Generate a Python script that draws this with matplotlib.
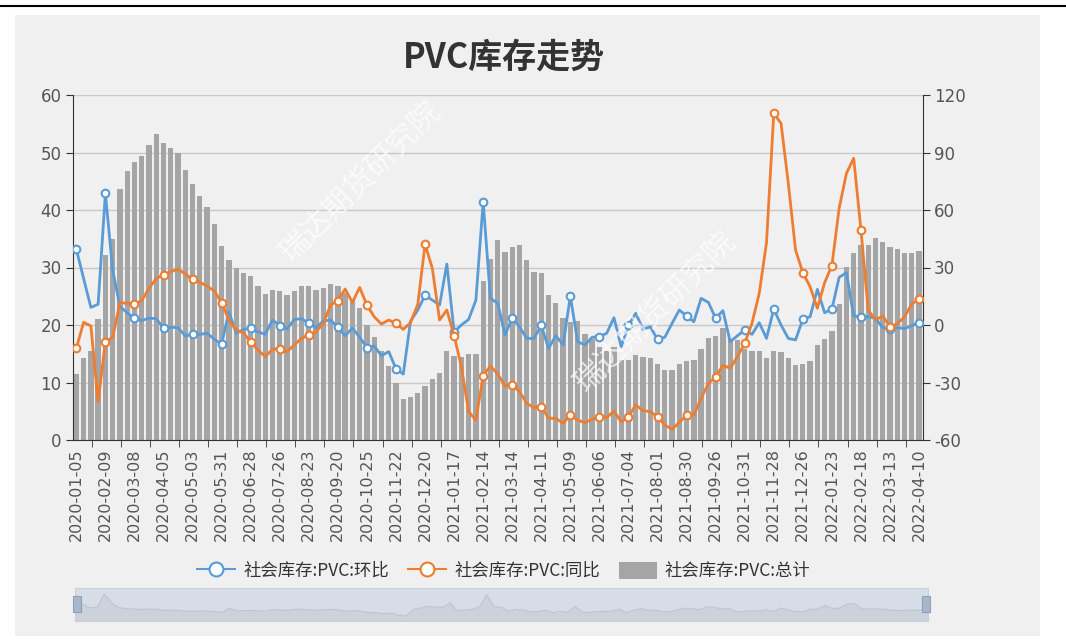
import matplotlib.pyplot as plt
import numpy as np
from matplotlib.lines import Line2D
from matplotlib.patches import Patch, Rectangle

plt.rcParams['font.family'] = ['Noto Sans CJK SC', 'DejaVu Sans']
plt.rcParams['axes.unicode_minus'] = False

# 横轴标签（每4周一个）
tick_labels = ['2020-01-05', '2020-02-09', '2020-03-08', '2020-04-05', '2020-05-03',
               '2020-05-31', '2020-06-28', '2020-07-26', '2020-08-23', '2020-09-20',
               '2020-10-25', '2020-11-22', '2020-12-20', '2021-01-17', '2021-02-14',
               '2021-03-14', '2021-04-11', '2021-05-09', '2021-06-06', '2021-07-04',
               '2021-08-01', '2021-08-30', '2021-09-26', '2021-10-31', '2021-11-28',
               '2021-12-26', '2022-01-23', '2022-02-18', '2022-03-13', '2022-04-10']

# 社会库存:PVC:总计（左轴）
total = [11.4, 14.2, 15.5, 21.0, 32.1, 35.0, 43.6, 46.8, 48.4, 49.4,
         51.3, 53.2, 51.6, 50.8, 50.0, 47.0, 44.5, 42.4, 40.6, 37.5,
         33.8, 31.3, 29.9, 29.0, 28.5, 26.8, 25.4, 26.1, 26.0, 25.3,
         26.0, 26.7, 26.7, 26.1, 26.4, 27.1, 26.7, 25.6, 24.3, 22.9,
         20.0, 17.9, 15.4, 12.9, 10.0, 7.2, 7.5, 8.1, 9.4, 10.6,
         11.6, 15.4, 14.6, 14.5, 15.0, 15.0, 27.7, 31.4, 34.7, 32.7,
         33.5, 33.9, 31.3, 29.2, 29.0, 25.3, 23.9, 21.3, 20.6, 20.7,
         18.4, 17.5, 16.2, 15.5, 16.1, 13.9, 13.9, 14.8, 14.4, 14.2,
         13.2, 12.2, 12.2, 13.2, 13.8, 13.9, 15.9, 17.8, 18.1, 19.5,
         17.6, 17.4, 15.8, 15.4, 15.5, 14.3, 15.5, 15.3, 14.2, 13.0,
         13.3, 13.8, 16.5, 17.6, 19.0, 23.7, 30.1, 32.6, 34.0, 34.0,
         35.2, 34.4, 33.5, 33.2, 32.6, 32.5, 32.9]

# 社会库存:PVC:环比（右轴）
mom = [39.5, 24.3, 9.2, 10.8, 68.7, 28.7, 9.6, 6.4, 3.5, 2.3,
       3.6, 3.3, -1.7, -1.2, -1.4, -5.7, -4.9, -4.9, -4.3, -7.5,
       -9.9, 6.9, -4.3, -2.3, -1.6, -3.5, -4.9, 2.6, -0.3, -2.1,
       2.9, 3.3, 0.9, -1.4, 2.1, 2.6, -1.2, -5.6, -1.6, -6.4,
       -11.8, -11.0, -16.0, -13.9, -22.8, -25.6, 2.0, 7.8, 15.6, 13.0,
       10.4, 31.8, -3.5, 0.0, 2.9, 13.0, 64.3, 13.9, 11.3, -5.2,
       3.5, -0.9, -7.0, -7.0, -0.2, -12.2, -5.6, -10.4, 15.1, -8.7,
       -10.4, -6.4, -6.1, -4.3, 3.8, -11.3, 0.0, 6.1, -2.3, -0.9,
       -7.5, -6.4, 0.9, 7.8, 4.7, 1.7, 13.9, 11.8, 3.5, 7.5,
       -8.7, -5.6, -2.6, -4.9, 1.2, -7.0, 8.3, 0.0, -7.0, -7.8,
       3.1, 4.3, 18.6, 6.4, 8.3, 24.9, 27.3, 4.7, 4.3, 4.3,
       3.5, -1.4, -2.3, -1.4, -1.9, -0.3, 1.2]

# 社会库存:PVC:同比（右轴）
yoy = [-12.2, 1.4, -0.5, -40.0, -8.7, -6.4, 11.7, 11.3, 11.0, 12.7,
       19.1, 24.3, 26.1, 27.8, 29.2, 26.6, 23.8, 22.3, 20.3, 17.7,
       11.7, 2.6, -2.6, -4.0, -9.0, -13.0, -16.5, -12.7, -12.3, -13.9,
       -10.4, -7.0, -5.2, -3.5, 0.9, 10.4, 12.7, 18.8, 11.8, 19.6,
       10.4, 4.3, 0.5, 2.6, 0.9, -2.3, 1.2, 10.8, 42.1, 29.6,
       2.6, 7.8, -5.6, -21.7, -45.2, -49.6, -26.4, -21.4, -25.6, -31.7,
       -31.3, -34.8, -40.9, -43.1, -42.6, -48.7, -48.7, -51.3, -47.0, -49.6,
       -51.0, -49.2, -47.8, -48.3, -44.9, -50.6, -47.8, -41.7, -44.7, -45.2,
       -47.8, -52.2, -54.4, -50.8, -47.0, -47.0, -38.3, -30.4, -27.3, -20.9,
       -22.6, -16.5, -9.6, 0.9, 16.5, 43.0, 110.4, 105.2, 73.9, 39.1,
       27.3, 20.0, 8.7, 22.1, 31.0, 60.9, 79.1, 87.0, 49.6, 7.8,
       2.6, 4.7, -0.9, 0.5, 4.3, 11.0, 13.4]

series_names = ['社会库存:PVC:环比', '社会库存:PVC:同比', '社会库存:PVC:总计']
blue = '#5b9bd5'
orange = '#ed7d31'
gray = '#a5a5a5'

W, H = 1066, 640
def fx(px):
    return px / W
def fy(py):
    return 1 - py / H

fig = plt.figure(figsize=(W / 100, H / 100), dpi=100)
fig.patch.set_facecolor('white')
fig.patches.append(Rectangle((fx(15), fy(636)), fx(1040) - fx(15), fy(15) - fy(636),
                             transform=fig.transFigure, facecolor='#f0f0f0',
                             edgecolor='none', zorder=-5))
fig.lines.append(Line2D([0, 1], [fy(6), fy(6)], transform=fig.transFigure,
                        color='black', lw=1.5))

# 主图
ax = fig.add_axes([fx(72.7), fy(440), fx(922.7) - fx(72.7), fy(95) - fy(440)])
ax.set_facecolor('none')
x = np.arange(len(total))
ax.bar(x, total, width=0.73, color=gray, zorder=2)
ax.set_xlim(-0.5, len(total) - 0.5)
ax.set_ylim(0, 60)
ax.set_yticks(range(0, 61, 10))
ax.grid(axis='y', color='#c8c8c8', lw=1)
ax.set_axisbelow(True)
ax.set_xticks(np.arange(0, len(total), 4))
ax.set_xticklabels(tick_labels, rotation=90, family='DejaVu Sans')
ax.set_xticks(np.arange(2.15, len(total), 4), minor=True)
ax.tick_params(axis='x', which='major', length=0, pad=6, labelsize=11.5, labelcolor='#555555')
ax.tick_params(axis='x', which='minor', length=5, color='#333333')
ax.tick_params(axis='y', length=5, color='#333333', labelcolor='#555555', labelsize=12, pad=3)
for lb in ax.get_yticklabels():
    lb.set_family('DejaVu Sans')
for s in ['top', 'right']:
    ax.spines[s].set_visible(False)
for s in ['left', 'bottom']:
    ax.spines[s].set_color('#333333')

ax2 = ax.twinx()
ax2.plot(x, mom, color=blue, lw=2, marker='o', markevery=4, ms=5.5,
         mfc='white', mec=blue, mew=1.5, zorder=3)
ax2.plot(x, yoy, color=orange, lw=2, marker='o', markevery=4, ms=5.5,
         mfc='white', mec=orange, mew=1.5, zorder=4)
ax2.set_ylim(-60, 120)
ax2.set_yticks(range(-60, 121, 30))
ax2.tick_params(axis='y', length=5, color='#333333', labelcolor='#555555', labelsize=12, pad=3)
for lb in ax2.get_yticklabels():
    lb.set_family('DejaVu Sans')
for s in ['top', 'left', 'bottom']:
    ax2.spines[s].set_visible(False)
ax2.spines['right'].set_color('#333333')

# 水印
for cx, cy in [(360, 182), (655, 312)]:
    fig.text(fx(cx), fy(cy), '瑞达期货研究院', rotation=45, fontsize=22,
             color='white', alpha=0.7, ha='center', va='center', zorder=10)

# 标题
fig.text(fx(504), fy(57), 'PVC库存走势', fontsize=24.5, fontweight='bold',
         color='#333333', ha='center', va='center')

# 图例
handles = [Line2D([], [], color=blue, lw=1.5, marker='o', ms=10, mfc='white', mec=blue, mew=1.5),
           Line2D([], [], color=orange, lw=1.5, marker='o', ms=10, mfc='white', mec=orange, mew=1.5),
           Patch(facecolor=gray, edgecolor='none')]
fig.legend(handles, series_names, loc='center', bbox_to_anchor=(fx(504), fy(571)),
           ncol=3, frameon=False, fontsize=12.5, handlelength=2.2, handleheight=1.1,
           columnspacing=1.1, handletextpad=0.45, labelcolor='#333333')

# 底部缩放条
sl = fig.add_axes([fx(75), fy(621), fx(928) - fx(75), fy(588) - fy(621)])
sl.set_facecolor('#d7dde6')
sl.fill_between(x, mom, -47, color='#cbd2dc', lw=0)
sl.plot(x, mom, color='#bcc4cf', lw=0.8)
sl.set_xlim(0, len(total) - 1)
sl.set_ylim(-47, 94)
sl.set_xticks([])
sl.set_yticks([])
for s in sl.spines.values():
    s.set_color('#c9d0da')
for hx in [73, 922]:
    fig.patches.append(Rectangle((fx(hx), fy(612)), fx(8), fy(596) - fy(612),
                                 transform=fig.transFigure, facecolor='#a7b7cc',
                                 edgecolor='#8fa0b7', lw=0.8, zorder=5))

fig.savefig('out.png', dpi=100)
